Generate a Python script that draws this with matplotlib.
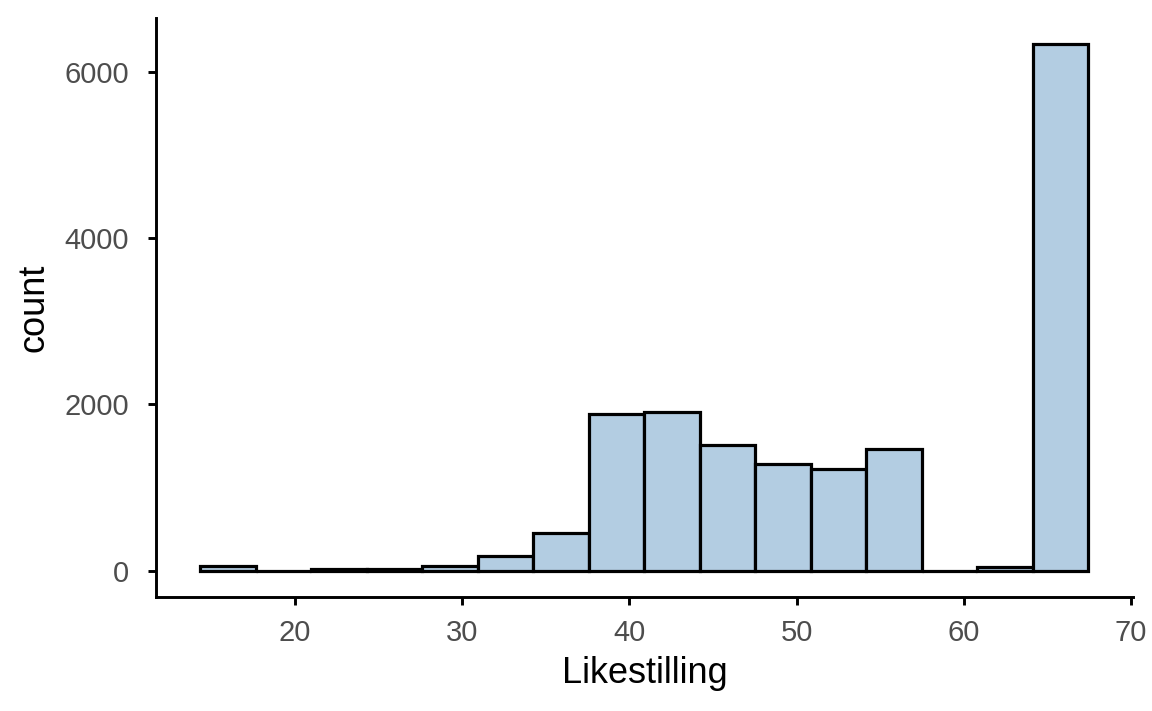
import numpy as np
import matplotlib.pyplot as plt

plt.rcParams['font.family'] = ['Liberation Sans', 'DejaVu Sans']

# histogram counts, 16 bins
counts = [55, 0, 15, 25, 55, 180, 455, 1880, 1908, 1506, 1285, 1225, 1466, 0, 50, 6330]
x_min, x_max = 16.0, 65.8
n_bins = len(counts)
width = (x_max - x_min) / (n_bins - 1)
centers = x_min + width * np.arange(n_bins)
edges = np.append(centers - width / 2, centers[-1] + width / 2)

fig = plt.figure(figsize=(11.52, 7.11), dpi=100)
ax = fig.add_axes([0.1354, 0.1603, 0.848, 0.8144])
ax.hist(centers, bins=edges, weights=counts, color='#B3CDE2',
        edgecolor='black', linewidth=2.3)

span = edges[-1] - edges[0]
ax.set_xlim(edges[0] - 0.05 * span, edges[-1] + 0.05 * span)
top = max(counts)
ax.set_ylim(-0.05 * top, top * 1.05)
ax.set_xticks([20, 30, 40, 50, 60, 70])
ax.set_yticks([0, 2000, 4000, 6000])

for s in ['top', 'right']:
    ax.spines[s].set_visible(False)
for s in ['left', 'bottom']:
    ax.spines[s].set_linewidth(2.1)
ax.tick_params(width=2.1, length=6, labelsize=21, labelcolor='#4D4D4D')
ax.tick_params(axis='x', pad=9.5)
ax.tick_params(axis='y', pad=13.5)
ax.set_xlabel('Likestilling', fontsize=26, labelpad=7)
ax.set_ylabel('count', fontsize=26, labelpad=9)

fig.savefig('out.png', dpi=100)
